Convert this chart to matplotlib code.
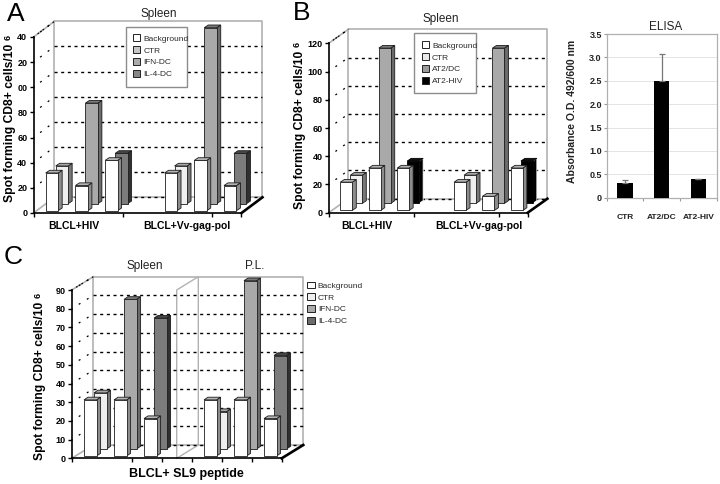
import matplotlib
matplotlib.use("Agg")
import matplotlib.pyplot as plt
from matplotlib.patches import Patch, Polygon, Rectangle
from matplotlib.lines import Line2D

plt.rcParams['font.family'] = ['Liberation Sans', 'DejaVu Sans']

W, H = 720, 484

# ---- data ----
a_slots = [0, 1, 2, 4, 5, 6]
a_front = [30, 20, 40, 30, 40, 20]
a_back = [30, 80, 40, 30, 140, 40]
a_yticks = [0, 20, 40, 60, 80, 100, 120, 140]
a_ylabels = ["0", "20", "40", "60", "80", "00", "20", "40"]
a_legend = ["Background", "CTR", "IFN-DC", "IL-4-DC"]

b_slots = [0, 1, 2, 4, 5, 6]
b_front = [20, 30, 30, 20, 10, 30]
b_back = [20, 110, 30, 20, 110, 30]
b_yticks = [0, 20, 40, 60, 80, 100, 120]
b_legend = ["Background", "CTR", "AT2/DC", "AT2-HIV"]

c_slots = [0, 1, 2, 4, 5, 6]
c_front = [30, 30, 20, 30, 30, 20]
c_back = [30, 80, 70, 20, 90, 50]
c_yticks = [0, 10, 20, 30, 40, 50, 60, 70, 80, 90]
c_legend = ["Background", "CTR", "IFN-DC", "IL-4-DC"]

elisa_cats = ["CTR", "AT2/DC", "AT2-HIV"]
elisa_vals = [0.32, 2.5, 0.39]
elisa_errs = [0.06, 0.57, 0.02]
elisa_yticks = [0, 0.5, 1.0, 1.5, 2.0, 2.5, 3.0, 3.5]
elisa_ylabels = ["0", "0.5", "1.0", "1.5", "2.0", "2.5", "3.0", "3.5"]

# ---- styles: (front, side, top) ----
WHITE = ("#ffffff", "#8c8c8c", "#b4b4b4")
CTR = ("#efefef", "#777777", "#a8a8a8")
IFN = ("#a9a9a9", "#6a6a6a", "#7a7a7a")
IL4 = ("#7c7c7c", "#303030", "#474747")
BLK = ("#000000", "#000000", "#111111")

fig = plt.figure(figsize=(W / 100, H / 100), dpi=100, facecolor="white")


def fx(x):
    return x / W


def fy(y):
    return 1 - y / H


def make_panel(l, r, t, b, ymax, wall_dx, wall_dy, yticks, yticklabels, xticks,
               slots, front, back, back_styles):
    ax = fig.add_axes([fx(l), fy(b), (r - l) / W, (b - t) / H])
    ax.set_xlim(0, 7)
    ax.set_ylim(0, ymax)
    ax.patch.set_visible(False)
    for s in ("top", "right"):
        ax.spines[s].set_visible(False)
    for s in ("left", "bottom"):
        ax.spines[s].set_linewidth(1.2)
        ax.spines[s].set_zorder(9)
    ux = 7 / (r - l)
    uy = ymax / (b - t)
    dx, dy = wall_dx * ux, wall_dy * uy
    ax.set_yticks(yticks)
    ax.set_yticklabels(yticklabels, fontsize=6.5, fontweight="bold")
    ax.set_xticks(xticks)
    ax.set_xticklabels([])
    ax.tick_params(axis="both", length=3.0, width=1.0, pad=1.5, color="black")

    wall = "#b2b2b2"
    kw = dict(color=wall, lw=1.2, clip_on=False, zorder=1)
    ax.plot([dx, 7 + dx, 7 + dx, dx, dx],
            [dy, dy, ymax + dy, ymax + dy, dy], **kw)
    ax.plot([0, dx], [ymax, ymax + dy], **kw)
    ax.plot([0, dx], [0, dy], **kw)
    for v in yticks[:-1]:
        ax.plot([dx, 7 + dx], [v + dy, v + dy], color="black", lw=1.0,
                ls=(0, (2.2, 2.6)), clip_on=False, zorder=1.5)
    for v in yticks[1:]:
        ax.plot([0, dx], [v, v + dy], color="black", lw=0.9,
                ls=(1, (1.6, 6.0)), clip_on=False, zorder=1.5)
    ax.plot([0, dx], [ymax, ymax + dy], color="black", lw=0.8,
            ls=(1, (1.6, 4.0)), clip_on=False, zorder=1.6)
    ax.plot([7, 7 + dx], [0, dy], color="black", lw=1.9, clip_on=False, zorder=8)

    # bars
    side_w, top_h = 4.0 * ux, 2.7 * uy
    off, bw = 0.41, 0.42

    def bar3d(x0, base, val, style, z):
        f, s, tp = style
        ec = "#1c1c1c" if f != "#000000" else "#000000"
        ax.bar(x0, val, bw, bottom=base, align="edge", color=f, edgecolor=ec,
               linewidth=0.6, clip_on=False, zorder=z + 0.2)
        topv = base + val
        x1 = x0 + bw
        sec = ec if f != "#000000" else "#ffffff"
        ax.add_patch(Polygon([(x1, base), (x1 + side_w, base + top_h),
                              (x1 + side_w, topv + top_h), (x1, topv)],
                             closed=True, fc=s, ec=sec, lw=0.6, clip_on=False,
                             zorder=z))
        ax.add_patch(Polygon([(x0, topv), (x1, topv), (x1 + side_w, topv + top_h),
                              (x0 + side_w, topv + top_h)],
                             closed=True, fc=tp, ec=ec, lw=0.6, clip_on=False,
                             zorder=z + 0.1))

    for i, sl in enumerate(slots):
        bar3d(sl + off + 10 * ux, 9.3 * uy, back[i], back_styles[i], 3 + i * 0.01)
    for i, sl in enumerate(slots):
        bar3d(sl + off, 2.3 * uy, front[i], WHITE, 5 + i * 0.01)
    return ax


def add_legend(ax, labels, facecolors, x, y, box=None, handlelength=0.85, textpad=0.4):
    if box is not None:
        bl, bt, br, bb = box
        ax.add_patch(Rectangle((fx(bl), fy(bb)), (br - bl) / W, (bb - bt) / H,
                               transform=fig.transFigure, fc="white",
                               ec="#8c8c8c", lw=1.0, zorder=15, clip_on=False))
    handles = [Patch(fc=c, ec="#222222", lw=0.7) for c in facecolors]
    leg = ax.legend(handles, labels, loc="upper left",
                    bbox_to_anchor=(fx(x), fy(y)), bbox_transform=fig.transFigure,
                    fontsize=6, labelspacing=0.44, handlelength=handlelength,
                    handleheight=0.85, handletextpad=textpad, borderaxespad=0,
                    borderpad=0, frameon=False, labelcolor="#2a2a2a")
    leg.set_zorder(20)
    return leg


def ylabel(x, bottom, length):
    fig.text(fx(x), fy(bottom), "Spot forming CD8+ cells/10", fontsize=8.7,
             fontweight="bold", rotation=90, ha="center", va="bottom")
    fig.text(fx(x - 2.5), fy(bottom - length), "6", fontsize=6.5, fontweight="bold",
             rotation=90, ha="center", va="center")


# ---- panel A ----
axA = make_panel(33.5, 241.5, 37, 213, 140, 21, 15.7, a_yticks, a_ylabels,
                 [0, 3, 6, 7], a_slots, a_front, a_back,
                 [CTR, IFN, IL4, CTR, IFN, IL4])
add_legend(axA, a_legend, ["#ffffff", "#c6c6c6", "#ababab", "#868686"], 133, 34.5,
           box=(126.5, 26.5, 187.5, 87))
fig.text(fx(16), fy(14), "A", fontsize=19, ha="center", va="center")
fig.text(fx(159), fy(14), "Spleen", fontsize=8.5, ha="center", va="center", color="#222222")
ylabel(10.5, 202, 165)
fig.text(fx(74), fy(226), "BLCL+HIV", fontsize=7.5, fontweight="bold", ha="center", va="center")
fig.text(fx(187), fy(226), "BLCL+Vv-gag-pol", fontsize=7.5, fontweight="bold", ha="center", va="center")

# ---- panel B ----
axB = make_panel(328.7, 527.7, 43.3, 212.7, 120, 19.7, 14, b_yticks,
                 [str(v) for v in b_yticks], [0, 3, 6, 7], b_slots, b_front, b_back,
                 [CTR, IFN, BLK, CTR, IFN, BLK])
add_legend(axB, b_legend, ["#ffffff", "#e8e8e8", "#9a9a9a", "#000000"], 421.5, 41.5,
           box=(414.3, 33.3, 475.7, 92.7))
fig.text(fx(302), fy(13), "B", fontsize=19, ha="center", va="center")
fig.text(fx(441), fy(19), "Spleen", fontsize=8.5, ha="center", va="center", color="#222222")
ylabel(300, 209, 165)
fig.text(fx(367), fy(226), "BLCL+HIV", fontsize=7.5, fontweight="bold", ha="center", va="center")
fig.text(fx(479), fy(226), "BLCL+Vv-gag-pol", fontsize=7.5, fontweight="bold", ha="center", va="center")

# ---- panel C ----
axC = make_panel(71.7, 281.7, 290, 458.3, 90, 21.6, 13.3, c_yticks,
                 [str(v) for v in c_yticks], [0, 2, 3, 4, 5, 6, 7], c_slots, c_front, c_back,
                 [CTR, IFN, IL4, CTR, IFN, IL4])
# divider between the two sub-plots
ddx, ddy = 21.6 * 7 / 210, 13.3 * 90 / 168.3
axC.plot([3.5, 3.5, 3.5 + ddx, 3.5 + ddx], [0, 90, 90 + ddy, ddy], color="#b2b2b2",
         lw=1.0, clip_on=False, zorder=1.2)
axC.plot([3.5, 3.5 + ddx], [0, ddy], color="#b2b2b2", lw=1.0, clip_on=False, zorder=1.2)
add_legend(axC, c_legend, ["#ffffff", "#efefef", "#ababab", "#6c6c6c"], 307, 281.5,
           handlelength=1.0, textpad=0.3)
fig.text(fx(13), fy(257), "C", fontsize=19, ha="center", va="center")
fig.text(fx(145), fy(266), "Spleen", fontsize=8.5, ha="center", va="center", color="#222222")
fig.text(fx(255), fy(266), "P.L.", fontsize=8.5, ha="center", va="center", color="#222222")
ylabel(40.5, 460, 165)
fig.text(fx(186), fy(474), "BLCL+ SL9 peptide", fontsize=9, fontweight="bold",
         ha="center", va="center")

# ---- ELISA ----
axE = fig.add_axes([fx(606.7), fy(197.7), 110 / W, (197.7 - 34) / H])
axE.set_xlim(-0.5, 2.5)
axE.set_ylim(0, 3.5)
axE.bar(range(3), elisa_vals, 0.42, color="black", zorder=3,
        yerr=[[0, 0, 0], elisa_errs], ecolor="#777777",
        error_kw=dict(lw=0.9, capsize=2.5, capthick=0.9))
axE.set_axisbelow(True)
axE.grid(axis="y", color="#e4e4e4", lw=0.7)
for s in axE.spines.values():
    s.set_color("#b0b0b0")
    s.set_linewidth(0.9)
axE.set_yticks(elisa_yticks)
axE.set_yticklabels(elisa_ylabels, fontsize=6.5, fontweight="bold", color="#222222")
axE.set_xticks([-0.5, 0.5, 1.5, 2.5], minor=False)
axE.set_xticklabels([])
axE.tick_params(axis="both", length=2, width=0.8, color="#999999", pad=1.5)
for i, c in enumerate(elisa_cats):
    axE.text(i, -0.42, c, fontsize=6, fontweight="bold", ha="center", va="center",
             color="#222222")
fig.text(fx(666), fy(27), "ELISA", fontsize=8.5, ha="center", va="center", color="#222222")
fig.text(fx(572), fy(111), "Absorbance O.D. 492/600 nm", fontsize=7.5, fontweight="bold",
         rotation=90, ha="center", va="center", color="#222222")

fig.savefig("out.png", dpi=100)
